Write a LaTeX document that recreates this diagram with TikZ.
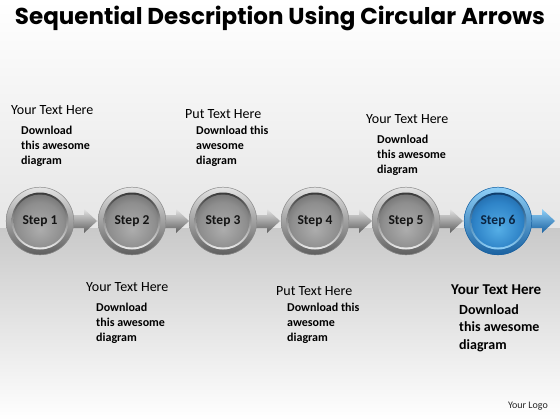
\documentclass[tikz,border=0pt]{standalone}
\usepackage{fontspec}
\setmainfont{Carlito}
\newfontfamily\titlefont{Poppins}
\definecolor{ringtop}{HTML}{E4E4E4}
\definecolor{ringbot}{HTML}{5E5E5E}
\definecolor{disktop}{HTML}{3A3A3A}
\definecolor{diskin}{HTML}{ADADAD}
\definecolor{diskmid}{HTML}{8E8E8E}
\definecolor{diskout}{HTML}{4C4C4C}
\definecolor{bringtop}{HTML}{8FD0F8}
\definecolor{bringbot}{HTML}{1A61A0}
\definecolor{bdiskin}{HTML}{55AEE6}
\definecolor{bdiskmid}{HTML}{2F84C8}
\definecolor{bdiskout}{HTML}{114C86}
\definecolor{navy}{HTML}{0B2440}
\pgfdeclareradialshading{graydisk}{\pgfpoint{0bp}{-8bp}}{color(0bp)=(diskin); color(22bp)=(diskmid); color(42bp)=(diskout); color(50bp)=(diskout)}
\pgfdeclareradialshading{bluedisk}{\pgfpoint{0bp}{-8bp}}{color(0bp)=(bdiskin); color(22bp)=(bdiskmid); color(42bp)=(bdiskout); color(50bp)=(bdiskout)}
\begin{document}
\begin{tikzpicture}[x=1pt,y=-1pt,
  head/.style={anchor=west,inner sep=0pt,font=\fontsize{14}{16}\selectfont,text=black},
  body/.style={anchor=north west,inner sep=0pt,align=left,font=\fontsize{12}{15}\selectfont\bfseries,text=black},
  steplabel/.style={circle,minimum size=68pt,inner sep=0pt,font=\fontsize{13.5}{15}\selectfont\bfseries}]
\useasboundingbox (0,0) rectangle (560,420);
\shade[top color=white,bottom color=gray!20] (0,0) rectangle (560,228);
\shade[top color=gray!42,bottom color=white] (0,228) rectangle (560,420);
\node[inner sep=0pt,font=\titlefont\fontsize{23}{26}\selectfont\bfseries] (title) at (280,18) {Sequential Description Using Circular Arrows};
% grey steps
\foreach \i/\x in {1/40,2/132,3/223,4/315,5/406}{
  \shade[top color=ringtop,bottom color=ringbot] (\x+24,215) -- (\x+44,215) -- (\x+44,209) -- (\x+57,221) -- (\x+44,233) -- (\x+44,228) -- (\x+24,228) -- cycle;
  \shade[top color=ringtop,bottom color=ringbot] (\x,221) circle (34);
  \draw[black!45,line width=0.5pt] (\x,221) circle (33.8);
  \shade[top color=disktop,bottom color=gray!15] (\x,221) circle (28.5);
  \shade[shading=graydisk] (\x,221) circle (26.5);
  \node[steplabel,text=black!92] (s\i) at (\x,221) {Step \i};
}
% blue step
\def\x{498}
\shade[top color=bringtop,bottom color=bringbot] (\x+24,215) -- (\x+44,215) -- (\x+44,209) -- (\x+57,221) -- (\x+44,233) -- (\x+44,228) -- (\x+24,228) -- cycle;
\shade[top color=bringtop,bottom color=bringbot] (\x,221) circle (34);
\draw[bringbot,line width=0.5pt] (\x,221) circle (33.8);
\shade[top color=bdiskout!80!black,bottom color=bringtop] (\x,221) circle (28.5);
\shade[shading=bluedisk] (\x,221) circle (26.5);
\node[steplabel,text=navy] (s6) at (\x,221) {Step 6};
% texts top
\node[head] (h1) at (11,110) {Your Text Here};
\node[body] (b1) at (21,126) {Download\\this awesome\\diagram};
\node[head] (h2) at (185,114) {Put Text Here};
\node[body] (b2) at (196,126) {Download this\\awesome\\diagram};
\node[head] (h3) at (366,119) {Your Text Here};
\node[body] (b3) at (377,135) {Download\\this awesome\\diagram};
% texts bottom
\node[head] (h4) at (86,287) {Your Text Here};
\node[body] (b4) at (96,303) {Download\\this awesome\\diagram};
\node[head] (h5) at (276,291) {Put Text Here};
\node[body] (b5) at (287,303) {Download this\\awesome\\diagram};
\node[head,font=\fontsize{15}{18}\selectfont\bfseries] (h6) at (451,290) {Your Text Here};
\node[body,font=\fontsize{14}{17.5}\selectfont\bfseries] (b6) at (459,304) {Download\\this awesome\\diagram};
\node[anchor=east,inner sep=0pt,font=\fontsize{10}{12}\selectfont,text=black!85] (logo) at (548,406) {Your Logo};
\end{tikzpicture}
\end{document}
